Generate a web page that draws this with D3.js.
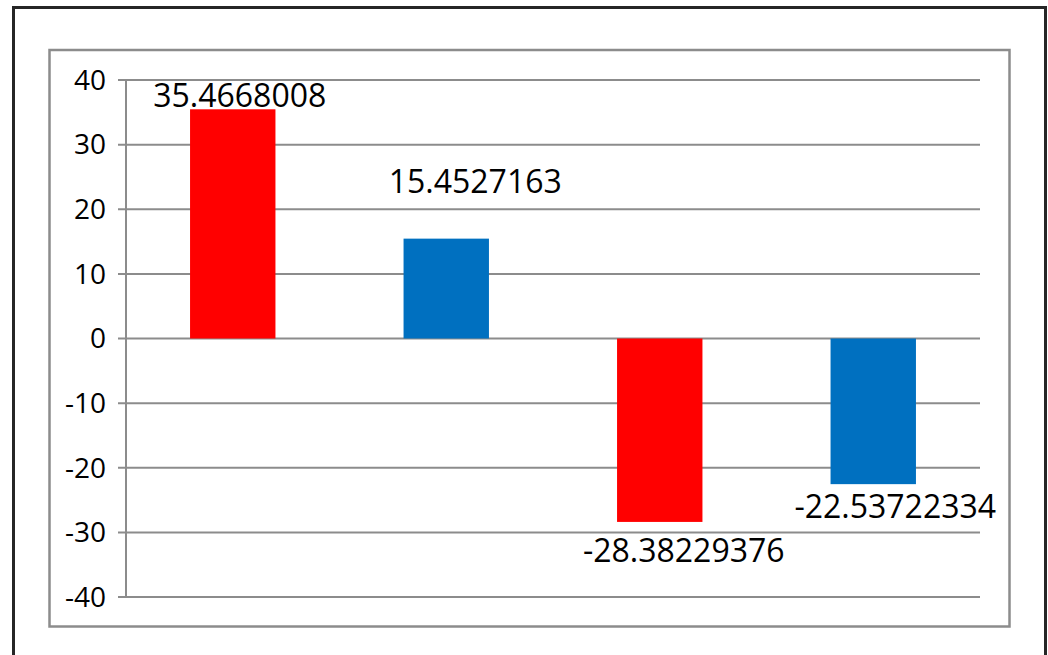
<!DOCTYPE html>
<html>
<head>
<meta charset="utf-8">
<script src="https://cdn.jsdelivr.net/npm/d3@7"></script>
<style>
  body { margin: 0; background: #fff; }
  text { font-family: "Open Sans", "Liberation Sans", sans-serif; fill: #000; }
</style>
</head>
<body>
<svg id="chart" width="1048" height="655"></svg>
<script>
// data
const categories = ["A", "B", "C", "D"];
const values = [35.4668008, 15.4527163, -28.38229376, -22.53722334];
const labels = ["35.4668008", "15.4527163", "-28.38229376", "-22.53722334"];
const colors = ["#ff0000", "#0070c0", "#ff0000", "#0070c0"];
const yTicks = [40, 30, 20, 10, 0, -10, -20, -30, -40];

// label nudges (dx, dy) relative to the bar end, as placed in the original
const labelShift = [[7, -2], [29, -46], [24, 40], [22, 34]];

const svg = d3.select("#chart");

// outer frame (bottom edge is cut off in the original)
svg.append("rect")
  .attr("x", 13.5).attr("y", 7.5)
  .attr("width", 1032).attr("height", 700)
  .attr("fill", "none")
  .attr("stroke", "#262626")
  .attr("stroke-width", 3);

// chart area frame
svg.append("rect")
  .attr("x", 49.5).attr("y", 50)
  .attr("width", 960).attr("height", 576.5)
  .attr("fill", "none")
  .attr("stroke", "#8c8c8c")
  .attr("stroke-width", 2.5);

const left = 126, right = 980;

const y = d3.scaleLinear().domain([-40, 40]).range([597, 80]);
const x = d3.scaleBand()
  .domain(categories)
  .range([left, right])
  .paddingInner(0.6)
  .paddingOuter(0.3);

// grid lines
svg.append("g")
  .selectAll("line")
  .data(yTicks)
  .join("line")
  .attr("x1", left - 8)
  .attr("x2", right)
  .attr("y1", (d) => y(d))
  .attr("y2", (d) => y(d))
  .attr("stroke", "#8c8c8c")
  .attr("stroke-width", 2);

// y axis line
svg.append("line")
  .attr("x1", left).attr("x2", left)
  .attr("y1", y(40)).attr("y2", y(-40))
  .attr("stroke", "#8c8c8c")
  .attr("stroke-width", 2);

// tick labels
svg.append("g")
  .selectAll("text")
  .data(yTicks)
  .join("text")
  .attr("x", 106)
  .attr("y", (d) => y(d))
  .attr("dy", "0.35em")
  .attr("text-anchor", "end")
  .attr("font-size", 28)
  .text((d) => d);

// bars
svg.append("g")
  .selectAll("rect")
  .data(values)
  .join("rect")
  .attr("x", (d, i) => x(categories[i]))
  .attr("width", x.bandwidth())
  .attr("y", (d) => y(Math.max(0, d)))
  .attr("height", (d) => Math.abs(y(d) - y(0)))
  .attr("fill", (d, i) => colors[i]);

// value labels
svg.append("g")
  .selectAll("text")
  .data(values)
  .join("text")
  .attr("x", (d, i) => x(categories[i]) + x.bandwidth() / 2 + labelShift[i][0])
  .attr("y", (d, i) => y(d) + labelShift[i][1])
  .attr("text-anchor", "middle")
  .attr("font-size", 32)
  .text((d, i) => labels[i]);
</script>
</body>
</html>
